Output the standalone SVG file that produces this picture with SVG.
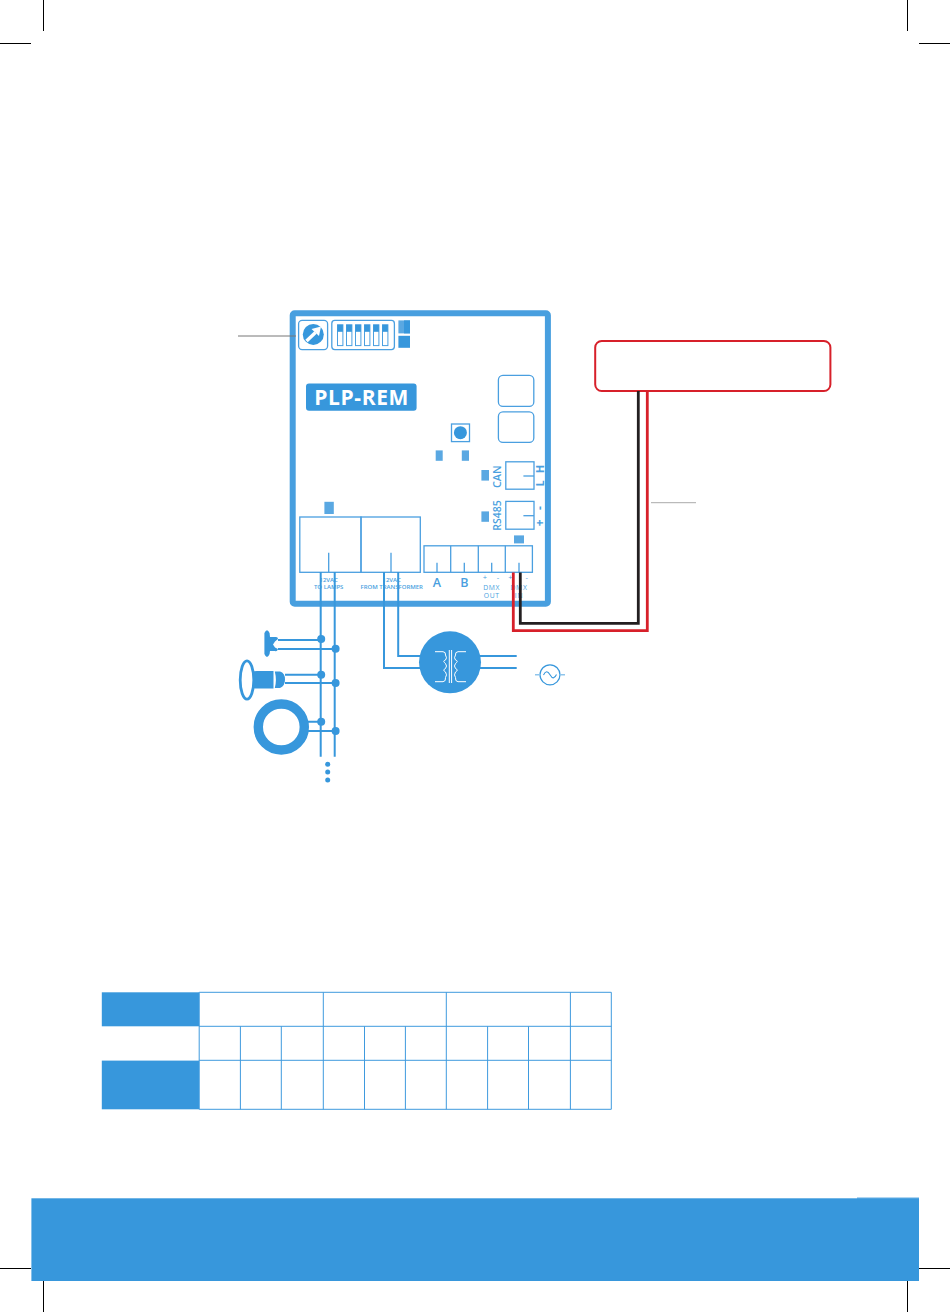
<svg xmlns="http://www.w3.org/2000/svg" width="950" height="1312" viewBox="0 0 950 1312">
<style>
.bl{fill:none;stroke:#4a9fe0;stroke-width:1.3}
.led{fill:#5aa8e2}
.w{fill:none;stroke:#3797dc;stroke-width:2}
.f{fill:#3797dc}
.tw{fill:none;stroke:#fff;stroke-width:1}
.t{font-family:"Open Sans","Liberation Sans",sans-serif;fill:#4a9fe0;text-anchor:middle}
.grid{stroke:#3f9ade;stroke-width:1;fill:none}
.crop{stroke:#000;stroke-width:1;fill:none}
</style>
<rect width="950" height="1312" fill="#fff"/>
<g id="crop-marks">
<path class="crop" d="M43.5 0V31M0 43.5H31M907.5 0V31M919 43.5H950M0 1268.5H31M919 1268.5H950M43.5 1281V1312M907.5 1281V1312"/>
</g>
<g id="board">
<rect x="292.7" y="313.3" width="255.2" height="290.4" rx="2" fill="#fff" stroke="#489fdf" stroke-width="6"/>
</g>
<g id="potentiometer">
<rect class="bl" x="298.6" y="320.4" width="29" height="29.2" rx="3.5"/>
<circle class="f" cx="313.3" cy="334.4" r="10.5"/>
<path d="M306.5 341L315.5 332.5" stroke="#fff" stroke-width="3.4" fill="none"/>
<path d="M311.5 329L321 326.5L319 336Z" fill="#fff"/>
</g>
<g id="dip-switch">
<rect class="bl" x="331.8" y="320.4" width="62.6" height="29.2" rx="3"/>
<g fill="#fff" stroke="#4a9fe0" stroke-width="1">
<rect x="337.5" y="324.8" width="5.4" height="20.8"/><rect x="346.5" y="324.8" width="5.4" height="20.8"/><rect x="355.5" y="324.8" width="5.4" height="20.8"/><rect x="364.5" y="324.8" width="5.4" height="20.8"/><rect x="373.5" y="324.8" width="5.4" height="20.8"/><rect x="382.5" y="324.8" width="5.4" height="20.8"/>
</g>
<g class="f">
<rect x="337.5" y="324.8" width="5.4" height="7"/><rect x="346.5" y="324.8" width="5.4" height="7"/><rect x="355.5" y="324.8" width="5.4" height="7"/><rect x="364.5" y="324.8" width="5.4" height="7"/><rect x="373.5" y="324.8" width="5.4" height="7"/><rect x="382.5" y="324.8" width="5.4" height="7"/>
</g>
</g>
<g id="leds">
<rect class="led" x="398.4" y="320.4" width="11.6" height="13"/>
<rect class="f" x="404" y="320.4" width="6" height="13"/>
<rect class="f" x="398.4" y="335.8" width="11.6" height="12"/>
<rect class="led" x="435.7" y="450.4" width="7" height="10.4"/>
<rect class="led" x="461.8" y="450.4" width="7.2" height="10.4"/>
<rect class="led" x="481.4" y="470" width="7.6" height="10.6"/>
<rect class="led" x="481.4" y="511.4" width="7.6" height="10.4"/>
<rect class="led" x="324.4" y="501.8" width="9.4" height="12.2"/>
<rect class="led" x="514" y="535.4" width="10" height="8"/>
</g>
<g id="badge">
<rect class="f" x="306" y="383.4" width="110.6" height="27.3" rx="3"/>
<text x="361.3" y="405" font-family="'Open Sans','Liberation Sans',sans-serif" font-weight="700" font-size="21" fill="#fff" text-anchor="middle" textLength="94">PLP-REM</text>
</g>
<g id="buttons">
<rect class="bl" x="498.4" y="375.4" width="35.4" height="31" rx="4.5"/>
<rect class="bl" x="498.4" y="411.8" width="35.4" height="30.6" rx="4.5"/>
<rect class="bl" x="451.5" y="424" width="18" height="17.6"/>
<circle class="f" cx="460.4" cy="432.7" r="6.5"/>
</g>
<g id="can-connector">
<rect class="bl" x="505.8" y="461.8" width="28.2" height="27.4"/>
<path class="bl" d="M523.4 476H534"/>
<text class="t" transform="translate(501.3 476.7) rotate(-90)" font-size="11" font-weight="600">CAN</text>
<text class="t" transform="translate(543.5 469) rotate(-90)" font-size="11" font-weight="700">H</text>
<text class="t" transform="translate(543.5 483.3) rotate(-90)" font-size="11" font-weight="700">L</text>
</g>
<g id="rs485-connector">
<rect class="bl" x="505.8" y="501.4" width="28.2" height="27.8"/>
<path class="bl" d="M523.4 515.7H534"/>
<text class="t" transform="translate(501.3 515.5) rotate(-90)" font-size="10.5" font-weight="600">RS485</text>
<text class="t" transform="translate(544 508) rotate(-90)" font-size="12" font-weight="700">-</text>
<text class="t" transform="translate(544 522.7) rotate(-90)" font-size="12" font-weight="700">+</text>
</g>
<g id="power-terminals">
<rect class="bl" x="299.8" y="517" width="61.2" height="55.3"/>
<rect class="bl" x="361" y="517" width="59.3" height="55.3"/>
<path class="bl" d="M328.7 552.7V572M391 552.7V572"/>
<text class="t" x="328.7" y="581.5" font-size="6" font-weight="600">12VAC</text>
<text class="t" x="328.7" y="588.6" font-size="6" font-weight="600">TO LAMPS</text>
<text class="t" x="391.7" y="581.5" font-size="6" font-weight="600">12VAC</text>
<text class="t" x="391.7" y="588.6" font-size="6" font-weight="600">FROM TRANSFORMER</text>
</g>
<g id="signal-terminals">
<rect class="bl" x="424" y="545.8" width="108.4" height="26.5"/>
<path class="bl" d="M450.7 545.8V572.3M478.3 545.8V572.3M505.3 545.8V572.3M437 562.7V572M464.3 562.7V572M491.7 562.7V572M519 562.7V572"/>
<text class="t" x="437" y="587" font-size="12.5" font-weight="600">A</text>
<text class="t" x="464.4" y="587" font-size="12.5" font-weight="600">B</text>
<text class="t" x="485" y="579.6" font-size="7.5">+</text>
<text class="t" x="498" y="579.6" font-size="7.5">-</text>
<text class="t" x="510.4" y="579.6" font-size="7.5">+</text>
<text class="t" x="526.7" y="579.6" font-size="7.5">-</text>
<text class="t" x="491.7" y="589.6" font-size="6.8" letter-spacing=".7">DMX</text>
<text class="t" x="491.7" y="597.6" font-size="6.8" letter-spacing=".7">OUT</text>
<text class="t" x="519" y="589.6" font-size="6.8" letter-spacing=".7">DMX</text>
<text class="t" x="519" y="597.6" font-size="6.8" letter-spacing=".7">IN</text>
</g>
<g id="lamp-1">
<path class="f" d="M264.4 633Q267 627.5 269.6 633L270 637H276Q278 637 278 639L275 641.5L273 644.5L275 647.5L278 649Q277 652 275 651H270L269.6 654Q267 660 264.4 654Z"/>
</g>
<g id="lamp-2">
<ellipse cx="247" cy="680" rx="6.8" ry="19.2" fill="#fff" stroke="#3797dc" stroke-width="2.8"/>
<path class="f" d="M253 671.5Q254.5 671 257 671H273.5V688.5H257Q254.5 688.5 253 688Q255 680 253 671.5Z"/>
<path class="f" d="M274.8 671.5H280Q285 673 285 679.5Q285 686 280 688H274.8Q277 680 274.8 671.5Z"/>
</g>
<g id="lamp-3">
<circle cx="281.3" cy="727" r="23" fill="#fff" stroke="#3797dc" stroke-width="9.4"/>
</g>
<g id="transformer">
<circle class="f" cx="450" cy="662.3" r="31"/>
<path class="tw" d="M449.3 650V683M451.6 650V683"/>
<path class="tw" d="M435 651.7H443Q446 652 445.5 655Q447.5 658 445.5 660Q442 661 445.5 663.5Q447.5 666 445.5 668.5Q442 670 445.5 672Q447.5 675 445.5 677.5Q446 681.5 443 681.7H435"/>
<path class="tw" d="M466 651.7H458Q455 652 455.5 655Q453.5 658 455.5 660Q459 661 455.5 663.5Q453.5 666 455.5 668.5Q459 670 455.5 672Q453.5 675 455.5 677.5Q455 681.5 458 681.7H466"/>
</g>
<g id="ac-source">
<circle cx="550" cy="674.8" r="10" fill="none" stroke="#3797dc" stroke-width="1.2"/>
<path d="M535 674.8H540M560 674.8H565" stroke="#8fc5ec" stroke-width="1.6" fill="none"/>
<path d="M543.5 675Q546.5 668.5 550 674.8T556.5 674.6" fill="none" stroke="#3797dc" stroke-width="1.1"/>
</g>
<g id="controller">
<rect x="595.2" y="341" width="235.2" height="50" rx="6.5" fill="#fff" stroke="#d7202a" stroke-width="2"/>
</g>
<g id="connectors">
<path class="w" d="M320.7 572V756.7M334.7 572V756.7"/>
<path class="w" d="M384 572V668H420M398.2 572V656H420M480 656H516.7M480 668H516.7"/>
<path class="w" d="M278 640H321M278 649H335M285 674.7H321M285 683H335M308 721.7H321M308 731H335"/>
<g class="f">
<circle cx="321.2" cy="639" r="4"/><circle cx="335.6" cy="648.7" r="4"/><circle cx="321.2" cy="674.7" r="4"/><circle cx="335.6" cy="683" r="4"/><circle cx="321.2" cy="721.7" r="4"/><circle cx="335.6" cy="731" r="4"/>
<circle cx="327.7" cy="764.3" r="2.5"/><circle cx="327.7" cy="772" r="2.5"/><circle cx="327.7" cy="780" r="2.5"/>
</g>
<path d="M647.3 391V630.7H513.3V572.6" fill="none" stroke="#d7202a" stroke-width="2.8"/>
<path d="M638.3 391V623.3H520.3V572.6" fill="none" stroke="#231f20" stroke-width="2.8"/>
<path d="M238 336H296" stroke="#777" stroke-width="1" fill="none"/>
<path d="M651 502.7H696" stroke="#aaa" stroke-width="1" fill="none"/>
</g>
<g id="table">
<rect class="f" x="101.8" y="992.3" width="97.4" height="34"/>
<rect class="f" x="101.8" y="1060.6" width="97.4" height="48.7"/>
<path class="grid" d="M199.2 992.3H611.3V1109.3H199.2ZM199.2 1026.3H611.3M199.2 1060.3H611.3M323.3 992.3V1109.3M446.3 992.3V1109.3M570.4 992.3V1109.3M240.4 1026.3V1109.3M281.3 1026.3V1109.3M364.5 1026.3V1109.3M405.4 1026.3V1109.3M487.6 1026.3V1109.3M528.5 1026.3V1109.3"/>
</g>
<g id="footer">
<rect class="f" x="31.4" y="1198.3" width="887.6" height="82.7"/>
<rect class="f" x="857" y="1197.6" width="62" height="1"/>
</g>
</svg>
